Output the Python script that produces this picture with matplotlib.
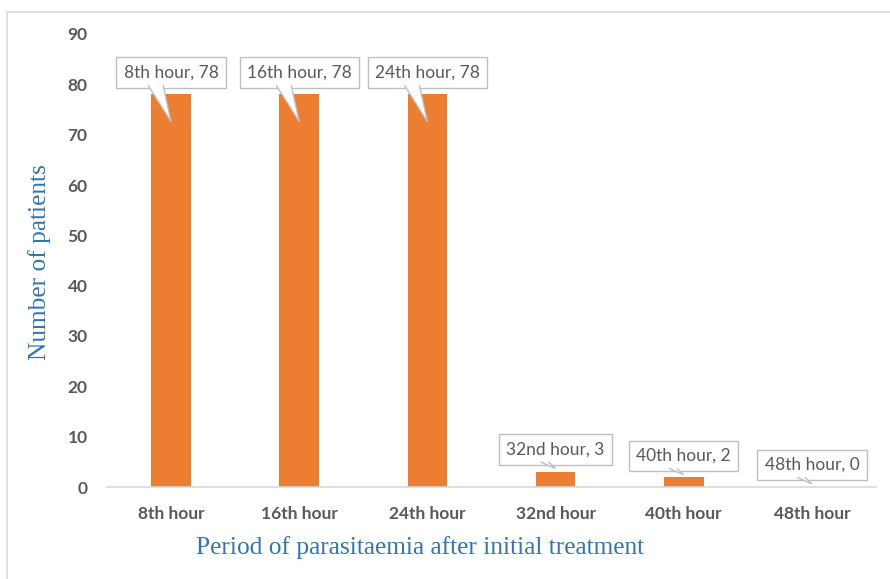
import matplotlib as mpl
mpl.use('Agg')
import matplotlib.pyplot as plt
import matplotlib.patches as patches
import matplotlib.transforms as mtransforms

hours = ['8th hour', '16th hour', '24th hour', '32nd hour', '40th hour', '48th hour']
patients = [78, 78, 78, 3, 2, 0]
yticks = [0, 10, 20, 30, 40, 50, 60, 70, 80, 90]

# where each callout box sits (data y of box centre)
label_y = [82.3, 82.3, 82.3, 7.45, 6.2, 4.4]

bar_color = '#ed7d31'
tick_gray = '#595959'
title_blue = '#2e75b6'
edge_gray = '#bfbfbf'

fig = plt.figure(figsize=(8.9, 5.79), dpi=100)
ax = fig.add_axes([107/890, 92/579, (876-107)/890, (545-92)/579])

# chart frame (runs off the right/bottom edge like the source)
fig.patches.append(patches.Rectangle((7/890, -0.05), 1.0, 567/579 + 0.05,
                                     transform=fig.transFigure, fill=False,
                                     edgecolor='#d9d9d9', linewidth=1.2, zorder=0))

x = range(len(hours))
ax.bar(x, patients, width=0.31, color=bar_color, zorder=2)

ax.set_xlim(-0.5, len(hours) - 0.5)
ax.set_ylim(0, 90)
ax.set_yticks(yticks)
ax.set_xticks(list(x))
ax.set_xticklabels(hours)

for s in ['top', 'right', 'left']:
    ax.spines[s].set_visible(False)
ax.spines['bottom'].set_color('#d9d9d9')
ax.spines['bottom'].set_linewidth(1.2)
ax.tick_params(axis='both', length=0, colors=tick_gray)
ax.tick_params(axis='y', pad=14)
ax.tick_params(axis='x', pad=14)
for lab in ax.get_xticklabels() + ax.get_yticklabels():
    lab.set_fontfamily('Lato')
    lab.set_fontweight('bold')
    lab.set_fontsize(12.5)

# callouts: box + little pointer wedge (wedge sized in pixels)
dpi = fig.dpi
for i, (h, v, ly) in enumerate(zip(hours, patients, label_y)):
    ax.text(i, ly, f'{h}, {v}', ha='center', va='center', fontsize=12.5,
            family='Lato', color=tick_gray, zorder=5,
            bbox=dict(boxstyle='square,pad=0.42', fc='white', ec=edge_gray, lw=1))
    if v > 10:
        x0, x1, tip = -23, -8, -49
    else:
        x0, x1, tip = -15, -7, -19
    verts = [(x0/dpi, -12.5/dpi), (0, tip/dpi), (x1/dpi, -12.5/dpi)]
    trans = fig.dpi_scale_trans + mtransforms.ScaledTranslation(i, ly, ax.transData)
    ax.add_patch(patches.Polygon(verts, closed=False, transform=trans,
                                 fc='white', ec=edge_gray, lw=1, zorder=6))

fig.text(40/890, 1 - 262/579, 'Number of patients', rotation=90, ha='center', va='center',
         family='Liberation Serif', fontsize=18.3, color=title_blue)
fig.text(420/890, 1 - 548/579, 'Period of parasitaemia after initial treatment',
         ha='center', va='center', family='Liberation Serif', fontsize=18.3, color=title_blue)

fig.savefig('out.png', dpi=100)
